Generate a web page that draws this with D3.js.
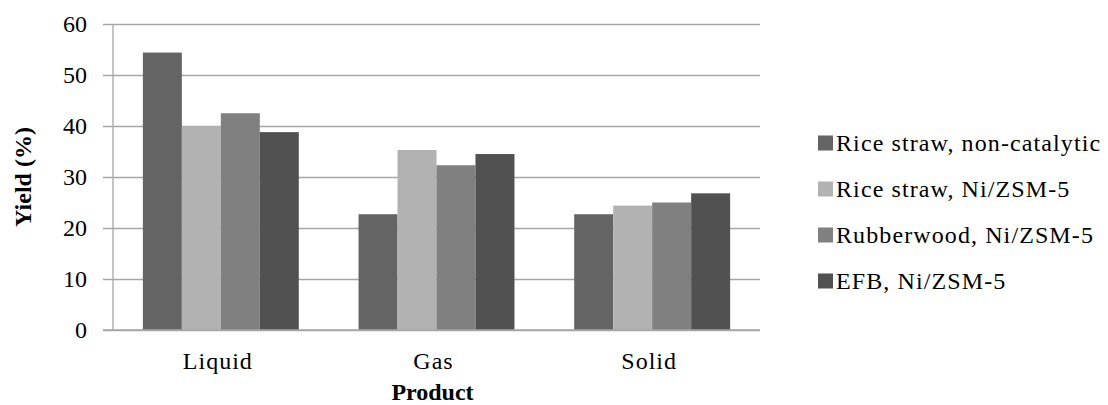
<!DOCTYPE html>
<html>
<head>
<meta charset="utf-8">
<script src="https://cdn.jsdelivr.net/npm/d3@7"></script>
<style>
  body { margin: 0; background: #fff; }
</style>
</head>
<body>
<script>
// data
var products = ["Liquid", "Gas", "Solid"];
var seriesNames = ["Rice straw, non-catalytic", "Rice straw, Ni/ZSM-5", "Rubberwood, Ni/ZSM-5", "EFB, Ni/ZSM-5"];
var riceNonCat = [54.4, 22.7, 22.7];
var riceNi = [40.0, 35.3, 24.4];
var rubberNi = [42.5, 32.3, 25.0];
var efbNi = [38.8, 34.5, 26.8];
var yTicks = [0, 10, 20, 30, 40, 50, 60];

var seriesValues = [riceNonCat, riceNi, rubberNi, efbNi];
var colors = ["#646464", "#b2b2b2", "#808080", "#515151"];
var FONT = "'Liberation Serif', 'Times New Roman', 'DejaVu Serif', serif";

// setup
var margin = { top: 24, left: 113, right: 348, bottom: 75 };
var W = 1108, H = 405;
var width = W - margin.left - margin.right;
var height = H - margin.top - margin.bottom;

var svg = d3.select("body")
    .append("svg")
    .attr("width", W)
    .attr("height", H)
    .attr("font-family", FONT);

var g = svg.append("g")
    .attr("transform", "translate(" + margin.left + "," + margin.top + ")");

var x = d3.scaleBand()
    .domain(products)
    .range([0, width])
    .paddingInner(0.277)
    .paddingOuter(0.1385);

var x1 = d3.scaleBand()
    .domain(d3.range(seriesNames.length))
    .range([0, x.bandwidth()]);

var y = d3.scaleLinear()
    .domain([0, 60])
    .range([height, 0]);

// gridlines + y axis
var yAxis = g.append("g")
    .attr("transform", "translate(-10,0)")
    .call(d3.axisLeft(y).tickValues(yTicks).tickSize(0).tickPadding(16).tickFormat(d3.format("d")));
yAxis.attr("font-family", FONT);
yAxis.select(".domain").remove();
yAxis.selectAll(".tick line")
    .attr("x1", 0)
    .attr("x2", width + 10)
    .attr("stroke", "#a6a6a6")
    .attr("stroke-width", 1.3);
yAxis.selectAll(".tick text")
    .attr("x", -16)
    .style("font-family", FONT)
    .style("font-size", "24px")
    .attr("fill", "#000");

// left axis line
g.append("line")
    .attr("x1", 0).attr("x2", 0)
    .attr("y1", 0).attr("y2", height)
    .attr("stroke", "#a6a6a6")
    .attr("stroke-width", 1.3);

// bars
var groups = g.selectAll(".grp")
    .data(products)
    .enter().append("g")
    .attr("class", "grp")
    .attr("transform", function (d) { return "translate(" + x(d) + ",0)"; });

groups.selectAll("rect")
    .data(function (d, i) { return seriesValues.map(function (s, k) { return { k: k, v: s[i] }; }); })
    .enter().append("rect")
    .attr("x", function (d) { return x1(d.k); })
    .attr("width", x1.bandwidth())
    .attr("y", function (d) { return y(d.v); })
    .attr("height", function (d) { return height - y(d.v); })
    .attr("fill", function (d) { return colors[d.k]; });

// baseline on top of bars
g.append("line")
    .attr("x1", -10).attr("x2", width)
    .attr("y1", height).attr("y2", height)
    .attr("stroke", "#a6a6a6")
    .attr("stroke-width", 1.3);

// x labels
var xAxis = g.append("g")
    .attr("transform", "translate(0," + height + ")")
    .call(d3.axisBottom(x).tickSize(0).tickPadding(22));
xAxis.attr("font-family", FONT);
xAxis.select(".domain").remove();
xAxis.selectAll("text")
    .style("font-family", FONT)
    .style("font-size", "24px")
    .style("letter-spacing", "1px")
    .attr("dx", -3)
    .attr("fill", "#000");

// axis titles
svg.append("text")
    .attr("x", margin.left + width / 2 - 4)
    .attr("y", 400)
    .attr("text-anchor", "middle")
    .style("font-family", FONT)
    .style("font-size", "24px")
    .style("font-weight", "bold")
    .text("Product");

svg.append("text")
    .attr("transform", "translate(31," + (margin.top + height / 2) + ") rotate(-90)")
    .attr("text-anchor", "middle")
    .style("font-family", FONT)
    .style("font-size", "24px")
    .style("font-weight", "bold")
    .text("Yield (%)");

// legend
var legend = svg.append("g")
    .attr("transform", "translate(818,143)");
var items = legend.selectAll("g")
    .data(seriesNames)
    .enter().append("g")
    .attr("transform", function (d, i) { return "translate(0," + (i * 46) + ")"; });
items.append("rect")
    .attr("x", 0).attr("y", -7.5)
    .attr("width", 15).attr("height", 15)
    .attr("fill", function (d, i) { return colors[i]; });
items.append("text")
    .attr("x", 18)
    .attr("y", 8)
    .style("font-family", FONT)
    .style("font-size", "24px")
    .style("letter-spacing", "1.1px")
    .text(function (d) { return d; });
</script>
</body>
</html>
